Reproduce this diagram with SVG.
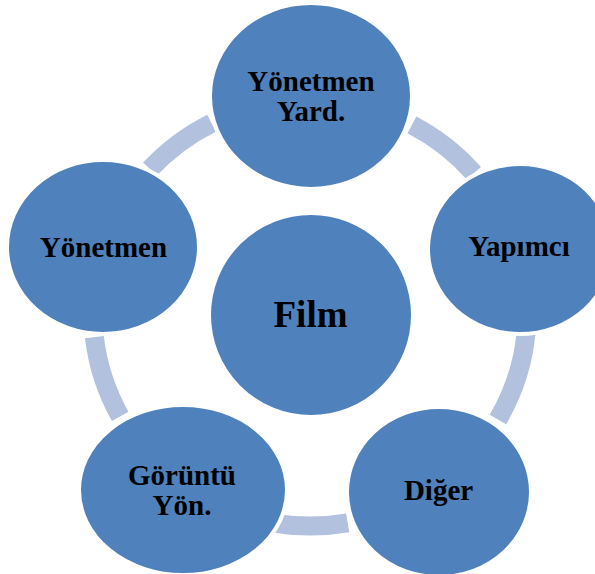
<svg xmlns="http://www.w3.org/2000/svg" width="595" height="574" viewBox="0 0 595 574">
<style>
.arc{fill:none;stroke:#B2C2DE;stroke-width:19;stroke-linecap:butt}
.node{fill:#4F81BD;stroke:#FFFFFF;stroke-width:4}
.lbl{font-family:"Liberation Serif","Times New Roman",serif;font-weight:bold;font-size:29px;fill:#000000;text-anchor:middle}
.big{font-size:37px}
</style>
<rect width="595" height="574" fill="#FFFFFF"/>
<g id="connectors">
<path class="arc" d="M 411.9 124.9 A 217 213 0 0 1 473.8 173.2"/>
<path class="arc" d="M 526.0 333.4 A 217 213 0 0 1 497.9 419.5"/>
<path class="arc" d="M 347.7 522.8 A 217 213 0 0 1 272.3 522.8"/>
<path class="arc" d="M 120.2 416.3 A 217 213 0 0 1 94.4 337.1"/>
<path class="arc" d="M 150.0 169.1 A 217 213 0 0 1 211.5 123.2"/>
</g>
<g id="node-film">
<ellipse class="node" cx="311" cy="315" rx="102" ry="102"/>
<text class="lbl big" x="310.5" y="327">Film</text>
</g>
<g id="node-yonetmen-yard">
<ellipse class="node" cx="311" cy="96" rx="101" ry="93"/>
<text class="lbl" x="311" y="91">Yönetmen</text>
<text class="lbl" x="311" y="121">Yard.</text>
</g>
<g id="node-yapimci">
<ellipse class="node" cx="520" cy="249" rx="92" ry="85"/>
<text class="lbl" x="519" y="256">Yapımcı</text>
</g>
<g id="node-diger">
<ellipse class="node" cx="439" cy="492" rx="92" ry="85"/>
<text class="lbl" x="438.5" y="500">Diğer</text>
</g>
<g id="node-goruntu-yon">
<ellipse class="node" cx="183" cy="490" rx="104" ry="85"/>
<text class="lbl" x="182" y="485">Görüntü</text>
<text class="lbl" x="182" y="515">Yön.</text>
</g>
<g id="node-yonetmen">
<ellipse class="node" cx="103" cy="247" rx="96" ry="87"/>
<text class="lbl" x="103.5" y="257">Yönetmen</text>
</g>
</svg>
